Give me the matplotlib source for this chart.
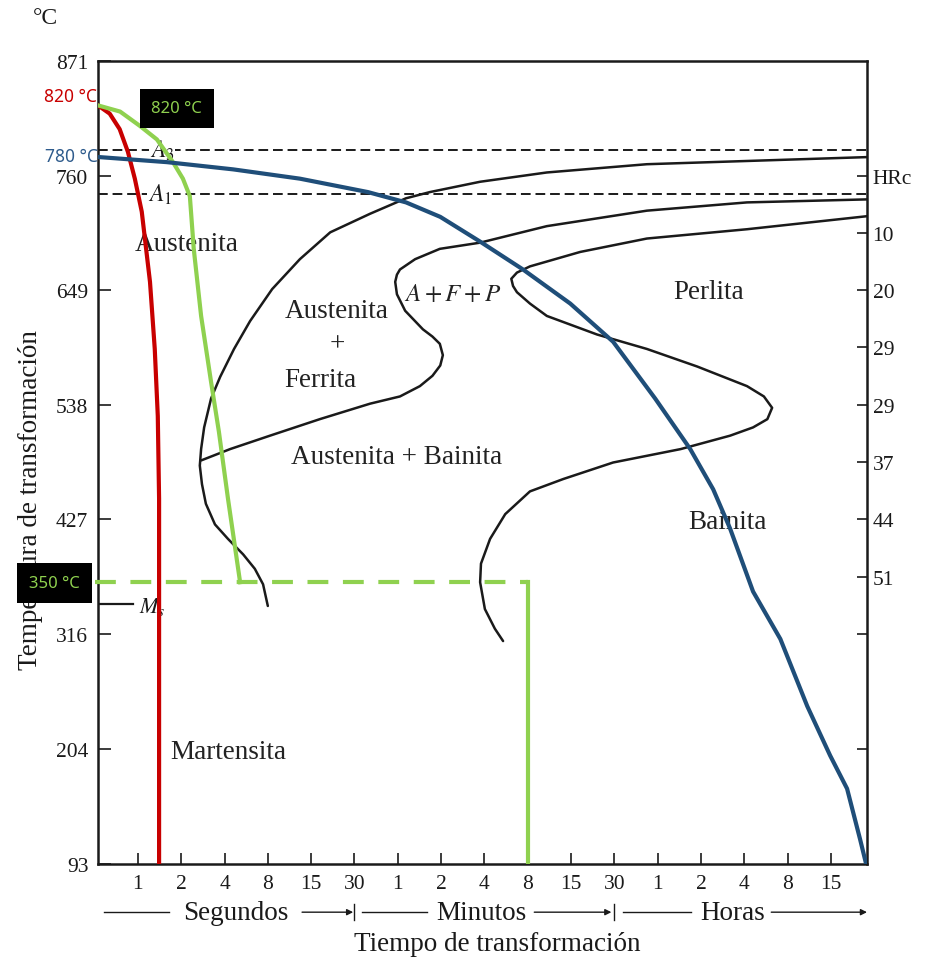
import matplotlib
matplotlib.use('Agg')
import matplotlib.pyplot as plt

plt.rcParams['font.family'] = ['Liberation Serif', 'DejaVu Serif']
plt.rcParams['mathtext.fontset'] = 'stix'

# axis ticks
temp_ticks = [93, 204, 316, 427, 538, 649, 760, 871]
time_pos = list(range(1, 18))
time_labels = ['1', '2', '4', '8', '15', '30', '1', '2', '4', '8', '15', '30',
               '1', '2', '4', '8', '15']
hrc_pos = [760, 704.5, 649, 593.5, 538, 482.5, 427, 371.5, 316, 204]
hrc_labels = ['HRc', '10', '20', '29', '29', '37', '44', '51', '', '']

# critical temperatures
A3 = 785
A1 = 742
Ms = 345

# TTT curves (x = position on the time scale, T in degC)
fer_x = [17.91, 12.75, 10.44, 8.90, 7.74, 7.19, 6.36, 5.44, 4.74, 4.10, 3.59, 3.22,
         2.90, 2.69, 2.53, 2.46, 2.43, 2.48, 2.57, 2.78, 3.08, 3.43, 3.70, 3.89, 4.00]
fer_T = [778, 771, 763, 754, 744, 738, 723, 705, 679, 650, 619, 592,
         565, 544, 516, 495, 479, 461, 442, 422, 408, 393, 379, 364, 343]

per_x = [2.46, 3.13, 4.05, 5.20, 6.36, 7.05, 7.51, 7.80, 7.98, 8.04, 7.97, 7.80, 7.58,
         7.17, 6.98, 6.94, 6.98, 7.05, 7.40, 7.97, 8.90, 10.44, 12.75, 15.06, 17.91]
per_T = [484, 495, 508, 524, 539, 546, 556, 566, 576, 586, 597, 604, 611,
         629, 645, 657, 664, 669, 679, 689, 695, 711, 726, 734, 737]

fin_x = [17.91, 15.06, 12.75, 11.21, 10.05, 9.75, 9.62, 9.66, 9.75, 10.05, 10.44, 11.60,
         12.75, 13.91, 15.06, 15.45, 15.64, 15.53, 15.20, 14.67, 13.53, 11.97, 10.82,
         10.05, 9.48, 9.13, 8.92, 8.90, 9.01, 9.24, 9.43]
fin_T = [721, 708, 699, 686, 672, 666, 660, 653, 647, 636, 624, 606,
         592, 575, 556, 546, 535, 524, 516, 508, 495, 482, 466,
         454, 432, 408, 384, 366, 340, 321, 309]

# cooling paths
red_x = [0.08, 0.35, 0.58, 0.77, 0.93, 1.09, 1.21, 1.28, 1.39, 1.46, 1.49, 1.49]
red_T = [828, 820, 805, 783, 757, 725, 682, 657, 592, 527, 447, 93]

green_x = [0.08, 0.59, 1.05, 1.44, 1.81, 2.04, 2.20, 2.29, 2.46, 2.69, 2.87, 3.08, 3.36]
green_T = [828, 822, 808, 795, 773, 757, 740, 689, 624, 560, 512, 447, 366]
hold_T = 366
hold_end = 10.0

blue_x = [0.08, 1.67, 3.20, 4.74, 6.31, 7.19, 7.98, 8.90, 9.89, 10.98, 11.97, 12.94,
          13.75, 14.28, 14.67, 15.20, 15.83, 16.45, 16.98, 17.37, 17.67, 17.81]
blue_T = [778, 773, 766, 757, 744, 734, 720, 696, 669, 636, 599, 544,
          495, 456, 418, 357, 311, 246, 198, 166, 117, 93]

RED = '#c80000'
GREEN = '#8fd14f'
BLUE = '#1f4e79'
INK = '#1a1a1a'

fig = plt.figure(figsize=(9.3, 9.7), dpi=100)
ax = fig.add_axes([98 / 930, 105 / 970, 769 / 930, 803 / 970])
ax.set_xlim(0.08, 17.83)
ax.set_ylim(93, 871)

for s in ax.spines.values():
    s.set_linewidth(1.8)
    s.set_color(INK)

ax.set_xticks(time_pos)
ax.set_xticklabels(time_labels, fontsize=15.5)
ax.set_yticks(temp_ticks)
ax.set_yticklabels([str(t) for t in temp_ticks], fontsize=15.5)
ax.tick_params(axis='x', direction='in', length=8, width=1.2, pad=7, colors=INK)
ax.tick_params(axis='y', direction='in', length=9, width=1.2, pad=7, colors=INK)

ax2 = ax.twinx()
ax2.set_ylim(93, 871)
ax2.set_yticks(hrc_pos)
ax2.set_yticklabels(hrc_labels, fontsize=15.5)
ax2.tick_params(axis='y', direction='in', length=7, width=1.2, pad=4, colors=INK)
for s in ax2.spines.values():
    s.set_visible(False)

# critical lines
ax.plot([0.08, 17.83], [A3, A3], color=INK, lw=1.4, dashes=(5, 2.5))
ax.plot([0.08, 17.83], [A1, A1], color=INK, lw=1.4, dashes=(5, 2.5))
ax.plot([0.08, 0.88], [Ms, Ms], color=INK, lw=1.6)
ax.text(1.56, A3, r'$A_3$', fontsize=17, ha='center', va='center', color=INK,
        bbox=dict(facecolor='white', edgecolor='none', pad=0.5))
ax.text(1.51, A1, r'$A_1$', fontsize=17, ha='center', va='center', color=INK,
        bbox=dict(facecolor='white', edgecolor='none', pad=0.5))
ax.text(1.02, Ms - 2, r'$M_s$', fontsize=16, ha='left', va='center', color=INK)

# TTT curves
for xs, ts in [(fer_x, fer_T), (per_x, per_T), (fin_x, fin_T)]:
    ax.plot(xs, ts, color=INK, lw=1.8, solid_joinstyle='round', solid_capstyle='round')

# region labels
labels = [
    ('Austenita', 2.13, 694), ('Austenita', 5.60, 629), ('+', 5.60, 597),
    ('Ferrita', 5.21, 562), ('Perlita', 14.17, 648),
    ('Austenita + Bainita', 6.96, 488), ('Bainita', 14.6, 425), ('Martensita', 3.08, 202),
]
for txt, x, t in labels:
    ax.text(x, t, txt, fontsize=19.5, ha='center', va='center', color='#222222')
ax.text(8.26, 645, r'$A+F+P$', fontsize=18, ha='center', va='center', color='#222222')

# cooling paths
ax.plot(red_x, red_T, color=RED, lw=3, zorder=5)
ax.plot(green_x, green_T, color=GREEN, lw=3, zorder=5)
ax.plot([0.0, hold_end], [hold_T, hold_T], color=GREEN, lw=3, dashes=(5, 3.5),
        zorder=5, clip_on=False)
ax.plot([hold_end, hold_end], [hold_T, 93], color=GREEN, lw=3, zorder=5)
ax.plot(blue_x, blue_T, color=BLUE, lw=3, zorder=5)

box = dict(facecolor='black', edgecolor='none', pad=8.5)
ax.text(1.90, 825, '820 °C', fontsize=12, family='Noto Sans', color=GREEN,
        ha='center', va='center', bbox=box, zorder=7)
ax.text(-0.92, 365, '350 °C', fontsize=12, family='Noto Sans', color=GREEN,
        ha='center', va='center', bbox=box, zorder=7, clip_on=False)
ax.text(0.05, 837, '820 °C', fontsize=12.5, family='Noto Sans', color=RED,
        ha='right', va='center', zorder=7)
ax.text(0.08, 779, '780 °C', fontsize=12.5, family='Noto Sans', color='#2e5b8c',
        ha='right', va='center', zorder=7)

# time-unit captions under the axis
tr = ax.get_xaxis_transform()
yb = -0.060
line_kw = dict(color=INK, lw=1.0, transform=tr, clip_on=False)
ax.plot([0.22, 1.72], [yb, yb], **line_kw)
ax.plot([6.17, 7.67], [yb, yb], **line_kw)
ax.plot([12.2, 13.77], [yb, yb], **line_kw)
for x0, x1 in [(4.79, 5.97), (10.15, 11.93), (15.62, 17.83)]:
    ax.annotate('', xy=(x1, yb), xytext=(x0, yb), xycoords=tr, textcoords=tr,
                arrowprops=dict(arrowstyle='-|>', color=INK, lw=1.0,
                                mutation_scale=9, shrinkA=0, shrinkB=0))
for xb in [6, 12]:
    ax.plot([xb, xb], [yb - 0.01, yb + 0.01], **line_kw)
for txt, x in [('Segundos', 3.26), ('Minutos', 8.92), ('Horas', 14.72)]:
    ax.text(x, yb, txt, transform=tr, fontsize=19.5, ha='center', va='center',
            color=INK, bbox=dict(facecolor='white', edgecolor='none', pad=1))

ax.text(0.519, -0.0996, 'Tiempo de transformación', transform=ax.transAxes,
        fontsize=19.5, ha='center', va='center', color=INK)
ax.text(-0.0884, 0.4545, 'Temperatura de transformación', transform=ax.transAxes,
        fontsize=19.5, rotation=90, ha='center', va='center', color=INK, zorder=1)
fig.text(45 / 930, 1 - 18 / 970, '°C', fontsize=17, ha='center', va='center', color=INK)

fig.savefig('out.png', dpi=100)
